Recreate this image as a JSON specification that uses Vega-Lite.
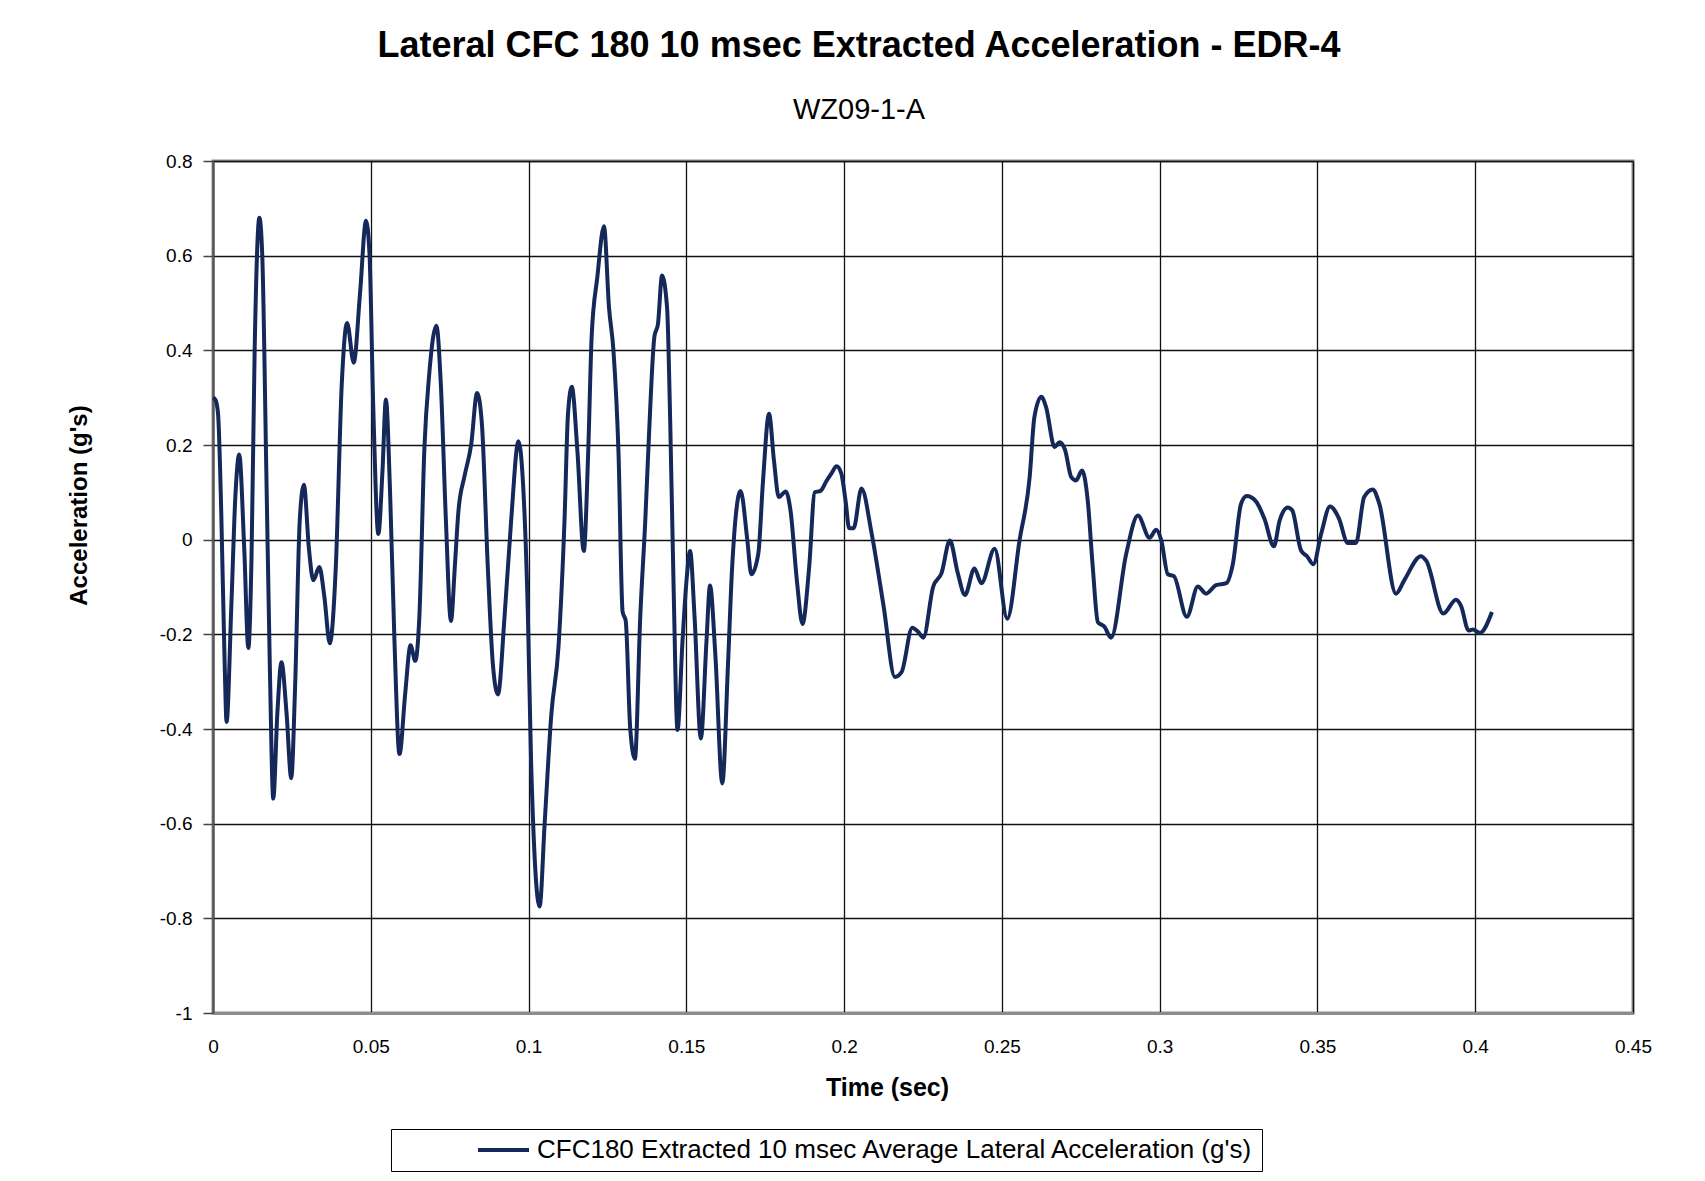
{
  "$schema": "https://vega.github.io/schema/vega-lite/v6.json",
  "width": 1420,
  "height": 852,
  "autosize": {"type": "none"},
  "padding": {"left": 213, "top": 161, "right": 72, "bottom": 168},
  "background": "white",
  "title": {
    "text": "Lateral CFC 180 10 msec Extracted Acceleration - EDR-4",
    "subtitle": "WZ09-1-A",
    "anchor": "middle",
    "frame": "group",
    "dx": -64,
    "offset": 26,
    "font": "Liberation Sans",
    "fontSize": 36,
    "fontWeight": "bold",
    "color": "black",
    "subtitleFont": "Liberation Sans",
    "subtitleFontSize": 29,
    "subtitleColor": "black",
    "subtitlePadding": 31
  },
  "config": {
    "view": {"stroke": "#8c8c8c", "strokeWidth": 3},
    "axis": {
      "labelFont": "Liberation Sans",
      "labelFontSize": 19,
      "labelColor": "black",
      "titleFont": "Liberation Sans",
      "titleFontWeight": "bold",
      "titleColor": "black",
      "gridColor": "#111111",
      "gridWidth": 1.3,
      "gridOpacity": 1
    }
  },
  "data": {
    "values": [
      {"t": 0, "a": 0.30}, {"t": 0.0008, "a": 0.295}, {"t": 0.0016, "a": 0.266}, {"t": 0.0026, "a": 0.062},
      {"t": 0.0037, "a": -0.264}, {"t": 0.0043, "a": -0.385}, {"t": 0.0058, "a": -0.142}, {"t": 0.0071, "a": 0.093},
      {"t": 0.0083, "a": 0.18}, {"t": 0.0099, "a": -0.019}, {"t": 0.0112, "a": -0.229}, {"t": 0.0122, "a": -0.04},
      {"t": 0.0132, "a": 0.40}, {"t": 0.0147, "a": 0.68}, {"t": 0.0156, "a": 0.603}, {"t": 0.0169, "a": 0.144},
      {"t": 0.018, "a": -0.264}, {"t": 0.0191, "a": -0.547}, {"t": 0.0204, "a": -0.366}, {"t": 0.0217, "a": -0.259},
      {"t": 0.0233, "a": -0.366}, {"t": 0.0248, "a": -0.504}, {"t": 0.026, "a": -0.315}, {"t": 0.0275, "a": 0.042},
      {"t": 0.0288, "a": 0.116}, {"t": 0.0304, "a": -0.019}, {"t": 0.0318, "a": -0.086}, {"t": 0.0337, "a": -0.058},
      {"t": 0.0353, "a": -0.121}, {"t": 0.037, "a": -0.219}, {"t": 0.0389, "a": -0.06}, {"t": 0.0408, "a": 0.328},
      {"t": 0.0425, "a": 0.458}, {"t": 0.0446, "a": 0.374}, {"t": 0.0466, "a": 0.521}, {"t": 0.0485, "a": 0.674},
      {"t": 0.0496, "a": 0.603}, {"t": 0.0508, "a": 0.277}, {"t": 0.0524, "a": 0.012}, {"t": 0.0537, "a": 0.144},
      {"t": 0.0548, "a": 0.296}, {"t": 0.0561, "a": 0.103}, {"t": 0.0575, "a": -0.213}, {"t": 0.0591, "a": -0.453},
      {"t": 0.0609, "a": -0.326}, {"t": 0.0626, "a": -0.223}, {"t": 0.0641, "a": -0.256}, {"t": 0.0654, "a": -0.162},
      {"t": 0.067, "a": 0.195}, {"t": 0.0685, "a": 0.348}, {"t": 0.0708, "a": 0.452}, {"t": 0.0722, "a": 0.328},
      {"t": 0.0738, "a": 0.042}, {"t": 0.0754, "a": -0.172}, {"t": 0.0767, "a": -0.05}, {"t": 0.0778, "a": 0.062},
      {"t": 0.0797, "a": 0.134}, {"t": 0.0818, "a": 0.2}, {"t": 0.0837, "a": 0.31}, {"t": 0.0852, "a": 0.246},
      {"t": 0.0871, "a": -0.06}, {"t": 0.0887, "a": -0.264}, {"t": 0.0903, "a": -0.327}, {"t": 0.0924, "a": -0.162},
      {"t": 0.0945, "a": 0.042}, {"t": 0.0968, "a": 0.208}, {"t": 0.0982, "a": 0.124}, {"t": 0.0998, "a": -0.162},
      {"t": 0.1008, "a": -0.468}, {"t": 0.1035, "a": -0.775}, {"t": 0.1051, "a": -0.60}, {"t": 0.1072, "a": -0.37},
      {"t": 0.1095, "a": -0.225}, {"t": 0.1114, "a": 0.042}, {"t": 0.1125, "a": 0.266}, {"t": 0.1137, "a": 0.323},
      {"t": 0.1155, "a": 0.185}, {"t": 0.1175, "a": -0.024}, {"t": 0.1189, "a": 0.185}, {"t": 0.12, "a": 0.43},
      {"t": 0.1218, "a": 0.555}, {"t": 0.1239, "a": 0.662}, {"t": 0.1255, "a": 0.49}, {"t": 0.1269, "a": 0.40},
      {"t": 0.1285, "a": 0.185}, {"t": 0.1298, "a": -0.152}, {"t": 0.1308, "a": -0.172}, {"t": 0.1322, "a": -0.397},
      {"t": 0.1337, "a": -0.463}, {"t": 0.1354, "a": -0.162}, {"t": 0.137, "a": 0.042}, {"t": 0.1382, "a": 0.226},
      {"t": 0.1399, "a": 0.43}, {"t": 0.141, "a": 0.455}, {"t": 0.1423, "a": 0.558}, {"t": 0.1439, "a": 0.49},
      {"t": 0.1449, "a": 0.246}, {"t": 0.146, "a": -0.111}, {"t": 0.1472, "a": -0.402}, {"t": 0.1488, "a": -0.213},
      {"t": 0.15, "a": -0.091}, {"t": 0.1512, "a": -0.024}, {"t": 0.1526, "a": -0.162}, {"t": 0.1546, "a": -0.42},
      {"t": 0.1564, "a": -0.213}, {"t": 0.1575, "a": -0.097}, {"t": 0.1592, "a": -0.244}, {"t": 0.1614, "a": -0.515},
      {"t": 0.1632, "a": -0.264}, {"t": 0.1645, "a": -0.06}, {"t": 0.1672, "a": 0.103}, {"t": 0.1693, "a": 0.001},
      {"t": 0.1706, "a": -0.073}, {"t": 0.1728, "a": -0.03}, {"t": 0.1743, "a": 0.124}, {"t": 0.1762, "a": 0.266},
      {"t": 0.1778, "a": 0.165}, {"t": 0.1793, "a": 0.09}, {"t": 0.1815, "a": 0.102}, {"t": 0.183, "a": 0.062},
      {"t": 0.1851, "a": -0.091}, {"t": 0.1868, "a": -0.178}, {"t": 0.1889, "a": -0.06}, {"t": 0.1907, "a": 0.10},
      {"t": 0.1925, "a": 0.103}, {"t": 0.1944, "a": 0.124}, {"t": 0.196, "a": 0.14}, {"t": 0.1976, "a": 0.155},
      {"t": 0.1991, "a": 0.14}, {"t": 0.2005, "a": 0.08}, {"t": 0.2016, "a": 0.024}, {"t": 0.203, "a": 0.024},
      {"t": 0.2055, "a": 0.108}, {"t": 0.2087, "a": 0.014}, {"t": 0.2125, "a": -0.14}, {"t": 0.2161, "a": -0.29},
      {"t": 0.2182, "a": -0.28}, {"t": 0.2216, "a": -0.186}, {"t": 0.2235, "a": -0.195}, {"t": 0.2251, "a": -0.207},
      {"t": 0.2282, "a": -0.10}, {"t": 0.2309, "a": -0.07}, {"t": 0.2335, "a": -0.002}, {"t": 0.236, "a": -0.07},
      {"t": 0.2383, "a": -0.117}, {"t": 0.2413, "a": -0.061}, {"t": 0.2435, "a": -0.092}, {"t": 0.2477, "a": -0.019},
      {"t": 0.2517, "a": -0.167}, {"t": 0.2556, "a": -0.001}, {"t": 0.2588, "a": 0.132}, {"t": 0.2603, "a": 0.259},
      {"t": 0.2625, "a": 0.302}, {"t": 0.264, "a": 0.28}, {"t": 0.2667, "a": 0.196}, {"t": 0.2683, "a": 0.206},
      {"t": 0.27, "a": 0.19}, {"t": 0.272, "a": 0.132}, {"t": 0.2735, "a": 0.125}, {"t": 0.2754, "a": 0.146},
      {"t": 0.2772, "a": 0.083}, {"t": 0.2788, "a": -0.058}, {"t": 0.2804, "a": -0.174}, {"t": 0.2825, "a": -0.184},
      {"t": 0.2846, "a": -0.207}, {"t": 0.2894, "a": -0.03}, {"t": 0.2931, "a": 0.051}, {"t": 0.2968, "a": 0.004},
      {"t": 0.2989, "a": 0.021}, {"t": 0.3005, "a": -0.001}, {"t": 0.3026, "a": -0.073}, {"t": 0.3045, "a": -0.077},
      {"t": 0.3086, "a": -0.163}, {"t": 0.3121, "a": -0.099}, {"t": 0.3147, "a": -0.114}, {"t": 0.3179, "a": -0.096},
      {"t": 0.3211, "a": -0.092}, {"t": 0.3232, "a": -0.051}, {"t": 0.3258, "a": 0.076}, {"t": 0.3276, "a": 0.092},
      {"t": 0.3305, "a": 0.081}, {"t": 0.3332, "a": 0.044}, {"t": 0.3362, "a": -0.014}, {"t": 0.338, "a": 0.04},
      {"t": 0.3406, "a": 0.068}, {"t": 0.342, "a": 0.062}, {"t": 0.3448, "a": -0.023}, {"t": 0.3467, "a": -0.035},
      {"t": 0.3487, "a": -0.052}, {"t": 0.3512, "a": 0.013}, {"t": 0.354, "a": 0.07}, {"t": 0.3568, "a": 0.045},
      {"t": 0.3596, "a": -0.007}, {"t": 0.3622, "a": -0.007}, {"t": 0.3648, "a": 0.09}, {"t": 0.3675, "a": 0.106},
      {"t": 0.3696, "a": 0.076}, {"t": 0.3749, "a": -0.114}, {"t": 0.3775, "a": -0.086}, {"t": 0.3828, "a": -0.035},
      {"t": 0.3845, "a": -0.045}, {"t": 0.3899, "a": -0.156}, {"t": 0.3939, "a": -0.127}, {"t": 0.3955, "a": -0.14},
      {"t": 0.3979, "a": -0.192}, {"t": 0.3992, "a": -0.19}, {"t": 0.4015, "a": -0.197}, {"t": 0.4053, "a": -0.153}
    ]
  },
  "mark": {"type": "line", "interpolate": "monotone", "strokeWidth": 4, "clip": false},
  "encoding": {
    "x": {
      "field": "t",
      "type": "quantitative",
      "scale": {"domain": [0, 0.45], "nice": false, "zero": false},
      "axis": {
        "title": "Time (sec)",
        "titleFontSize": 25,
        "titleX": 674,
        "titleY": 74,
        "titleAlign": "center",
        "titleBaseline": "middle",
        "values": [0, 0.05, 0.1, 0.15, 0.2, 0.25, 0.3, 0.35, 0.4, 0.45],
        "format": "~g",
        "ticks": false,
        "labelPadding": 24,
        "labelFlush": false,
        "domainColor": "#8c8c8c",
        "domainWidth": 3
      }
    },
    "y": {
      "field": "a",
      "type": "quantitative",
      "scale": {"domain": [-1, 0.8], "nice": false, "zero": false},
      "axis": {
        "title": "Acceleration (g's)",
        "titleFontSize": 24,
        "titleAngle": 270,
        "titleX": -134,
        "titleY": 344,
        "titleAlign": "center",
        "titleBaseline": "middle",
        "values": [-1, -0.8, -0.6, -0.4, -0.2, 0, 0.2, 0.4, 0.6, 0.8],
        "format": "~g",
        "labelExpr": "replace(datum.label, '\u2212', '-')",
        "labelFlush": false,
        "tickSize": 10,
        "tickColor": "#444444",
        "tickWidth": 1.5,
        "labelPadding": 11,
        "domainColor": "#555555",
        "domainWidth": 2
      }
    },
    "color": {
      "datum": "CFC180 Extracted 10 msec Average Lateral Acceleration (g's)",
      "type": "nominal",
      "scale": {"range": ["#14285a"]},
      "legend": {
        "title": null,
        "orient": "none",
        "legendX": 178,
        "legendY": 968,
        "symbolType": "stroke",
        "symbolSize": 2601,
        "symbolStrokeWidth": 4,
        "symbolOffset": 77,
        "labelOffset": 6,
        "labelFont": "Liberation Sans",
        "labelFontSize": 26,
        "labelColor": "black",
        "labelLimit": 1000,
        "clipHeight": 26,
        "padding": 8,
        "strokeColor": "black",
        "fillColor": "white"
      }
    }
  }
}
